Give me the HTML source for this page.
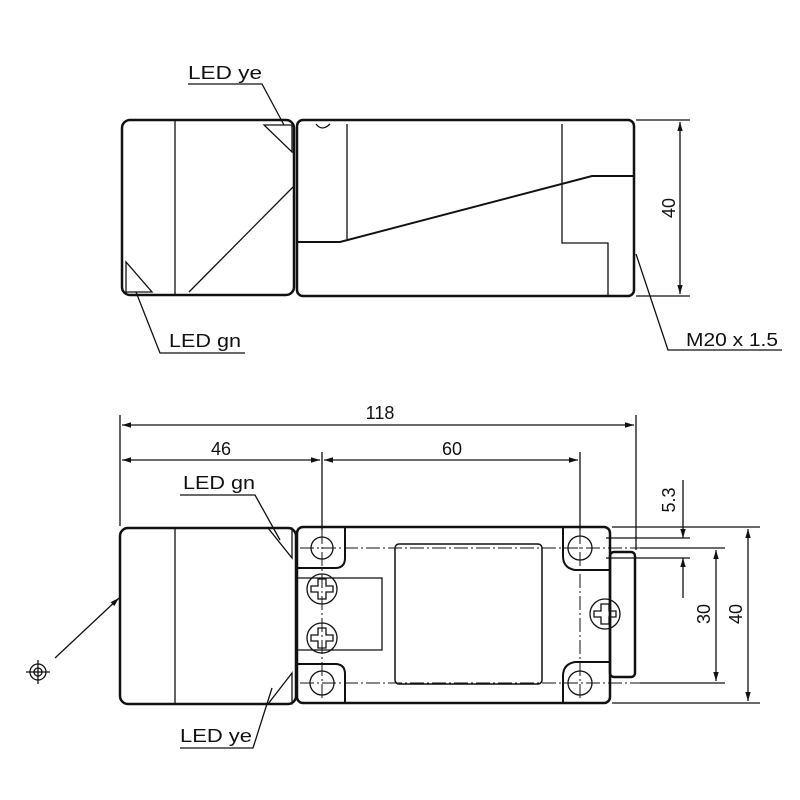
<!DOCTYPE html>
<html><head><style>body{margin:0;background:#fff}svg{display:block}text{font-family:"Liberation Sans",sans-serif;fill:#111}</style></head><body>
<svg width="800" height="800" viewBox="0 0 800 800" xmlns="http://www.w3.org/2000/svg">
<defs><marker id="a" viewBox="0 0 10 10" refX="10" refY="5" markerWidth="9" markerHeight="9" orient="auto-start-reverse" markerUnits="userSpaceOnUse"><path d="M0,2 L10,5 L0,8z" fill="#111"/></marker></defs>
<g fill="none" stroke="#111" stroke-width="1.3">
<!-- TOP VIEW -->
<rect x="122" y="120" width="172" height="175" rx="8" stroke-width="2.5"/>
<line x1="175" y1="120" x2="175" y2="295"/>
<line x1="189" y1="292" x2="294" y2="186"/>
<path d="M264,125 L292,125 L292,152 Z M126,262 L126,292 L152,292 Z"/>
<rect x="297" y="120" width="337" height="176" rx="6" stroke-width="2.5"/>
<path d="M316,124 Q322,132 330,124"/>
<path d="M347,124 L347,240"/>
<path d="M297,242 L340,242 L592,176 L634,176" stroke-width="2"/>
<path d="M562,124 L562,243 L608,243 L608,296"/>
<line x1="636" y1="120" x2="690" y2="120"/><line x1="636" y1="296" x2="690" y2="296"/>
<line x1="680" y1="122" x2="680" y2="294" marker-start="url(#a)" marker-end="url(#a)"/>
<path d="M636,254 L668,350 L782,350"/>
<path d="M188,84 L262,84 L284,125"/>
<path d="M136,292 L160,353 L245,353"/>
<!-- BOTTOM VIEW -->
<rect x="120" y="528" width="176" height="176" rx="8" stroke-width="2.5"/>
<line x1="175" y1="528" x2="175" y2="704"/>
<path d="M268,528 L292,528 L292,558 Z M268,704 L292,704 L292,673 Z"/>
<rect x="297" y="527" width="313" height="176" rx="6" stroke-width="2.5"/>
<rect x="610" y="552" width="25" height="125" rx="4" stroke-width="2.5"/>
<path d="M297,568 L335,568 Q345,568 345,558 L345,527" stroke-width="2"/>
<path d="M297,664 L335,664 Q345,664 345,674 L345,703" stroke-width="2"/>
<path d="M563,527 L563,556 Q563,568 575,570 L610,570" stroke-width="2"/>
<path d="M563,703 L563,676 Q563,664 575,662 L610,662" stroke-width="2"/>
<rect x="395" y="544" width="147" height="140" rx="4" stroke-width="1.5"/>
<path d="M297,578 L382,578 L382,650 L297,650"/>
<circle cx="322" cy="548" r="11"/><circle cx="580" cy="548" r="12"/>
<circle cx="322" cy="683" r="12"/><circle cx="580" cy="683" r="12"/>
<circle cx="322" cy="589" r="15"/><circle cx="322" cy="638" r="15"/><circle cx="605" cy="614" r="15"/>
<path d="M318,579 h8 v7 h7 v6 h-7 v7 h-8 v-7 h-7 v-6 h7z M318,628 h8 v7 h7 v6 h-7 v7 h-8 v-7 h-7 v-6 h7z M601,604 h8 v7 h7 v6 h-7 v7 h-8 v-7 h-7 v-6 h7z"/>
<g stroke-dasharray="14,3,2,3" stroke-width="1">
<line x1="300" y1="548" x2="640" y2="548"/><line x1="300" y1="683" x2="640" y2="683"/>
<line x1="322" y1="530" x2="322" y2="700"/><line x1="580" y1="530" x2="580" y2="700"/>
</g>
<line x1="120" y1="415" x2="120" y2="526"/><line x1="636" y1="415" x2="636" y2="550"/>
<line x1="322" y1="452" x2="322" y2="530"/><line x1="580" y1="452" x2="580" y2="530"/>
<line x1="122" y1="425" x2="634" y2="425" marker-start="url(#a)" marker-end="url(#a)"/>
<line x1="122" y1="460" x2="320" y2="460" marker-start="url(#a)" marker-end="url(#a)"/>
<line x1="324" y1="460" x2="578" y2="460" marker-start="url(#a)" marker-end="url(#a)"/>
<line x1="612" y1="527" x2="760" y2="527"/><line x1="612" y1="703" x2="760" y2="703"/>
<line x1="606" y1="538" x2="690" y2="538"/><line x1="606" y1="558" x2="690" y2="558"/>
<line x1="640" y1="548" x2="725" y2="548"/><line x1="640" y1="683" x2="725" y2="683"/>
<line x1="748" y1="529" x2="748" y2="701" marker-start="url(#a)" marker-end="url(#a)"/>
<line x1="716" y1="550" x2="716" y2="681" marker-start="url(#a)" marker-end="url(#a)"/>
<line x1="683" y1="480" x2="683" y2="538" marker-end="url(#a)"/>
<line x1="683" y1="598" x2="683" y2="558" marker-end="url(#a)"/>
<path d="M180,495 L255,495 L280,540"/>
<path d="M272,688 L253,748 L180,748"/>
<line x1="55" y1="658" x2="119" y2="598" marker-end="url(#a)"/>
<circle cx="38" cy="672" r="8"/><circle cx="38" cy="672" r="4"/>
<line x1="26" y1="672" x2="50" y2="672"/><line x1="38" y1="660" x2="38" y2="684"/>
</g>
<g font-size="18">
<text x="188" y="79" textLength="74" lengthAdjust="spacingAndGlyphs">LED ye</text>
<text x="169" y="347" textLength="72" lengthAdjust="spacingAndGlyphs">LED gn</text>
<text x="686" y="346" textLength="92" lengthAdjust="spacingAndGlyphs">M20 x 1.5</text>
<text x="675" y="208" transform="rotate(-90 675 208)" text-anchor="middle">40</text>
<text x="380" y="419" text-anchor="middle">118</text>
<text x="221" y="455" text-anchor="middle">46</text>
<text x="452" y="455" text-anchor="middle">60</text>
<text x="183" y="489" textLength="72" lengthAdjust="spacingAndGlyphs">LED gn</text>
<text x="180" y="742" textLength="72" lengthAdjust="spacingAndGlyphs">LED ye</text>
<text x="675" y="500" transform="rotate(-90 675 500)" text-anchor="middle">5.3</text>
<text x="710" y="614" transform="rotate(-90 710 614)" text-anchor="middle">30</text>
<text x="742" y="614" transform="rotate(-90 742 614)" text-anchor="middle">40</text>
</g>
</svg>
</body></html>
